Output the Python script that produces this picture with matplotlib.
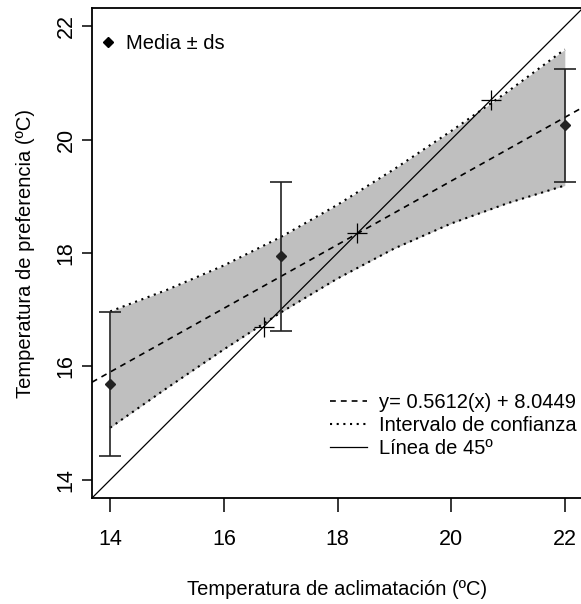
import numpy as np
import matplotlib.pyplot as plt
import matplotlib as mpl
from matplotlib.lines import Line2D

mpl.rcParams.update(mpl.rcParamsDefault)
plt.rcParams['font.family'] = ['Liberation Sans Narrow', 'Liberation Sans', 'DejaVu Sans']

# acclimation temperature vs preferred temperature (mean +/- sd)
t_acl = [14, 17, 22]
t_pref = [15.69, 17.94, 20.25]
t_sd = [1.27, 1.31, 0.99]

# fitted line y = slope*x + intercept
slope = 0.5612
intercept = 8.0449
fit_label = 'y= 0.5612(x) + 8.0449'

# confidence band of the fit
band_x = [14, 15, 16, 17, 18, 19, 20, 21, 22]
band_hi = [16.97, 17.35, 17.78, 18.28, 18.85, 19.48, 20.15, 20.85, 21.59]
band_lo = [14.92, 15.62, 16.30, 16.95, 17.55, 18.08, 18.52, 18.88, 19.19]

# points where the fit / band cross the 45 degree line
cross_x = [16.7, 18.35, 20.7]

xlim = (13.68, 22.32)
ylim = (13.68, 22.32)

fs = 14.5
dot = (0, (1, 2.2))
dash = (0, (3.5, 3))

fig = plt.figure(figsize=(5.81, 6.04), dpi=100)
ax = fig.add_axes([92/581, 1 - 498/604, 491/581, 490/604])

ax.fill_between(band_x, band_lo, band_hi, color='#bfbfbf', lw=0, zorder=1)
ax.plot(band_x, band_hi, color='k', lw=1.5, ls=dot, zorder=2)
ax.plot(band_x, band_lo, color='k', lw=1.5, ls=dot, zorder=2)

xx = np.array(xlim)
ax.plot(xx, slope*xx + intercept, color='k', lw=1.2, ls=dash, zorder=3)
ax.plot(xx, xx, color='k', lw=0.9, zorder=3)

ax.plot(cross_x, cross_x, ls='none', marker='+', ms=14, mew=0.9, color='k', zorder=4)

ax.errorbar(t_acl, t_pref, yerr=t_sd, fmt='D', ms=5.5, color='#222222',
            ecolor='#222222', elinewidth=1.2, capsize=8, capthick=1.2, zorder=5)

ax.set_xlim(xlim)
ax.set_ylim(ylim)
ax.set_xticks([14, 16, 18, 20, 22])
ax.set_yticks([14, 16, 18, 20, 22])
ax.tick_params(axis='x', length=10, width=1.1, pad=12, labelsize=15.5)
ax.tick_params(axis='y', length=7, width=1.1, pad=4, labelsize=15.5, labelrotation=90)
for lab in ax.get_yticklabels():
    lab.set_va('center')
for sp in ax.spines.values():
    sp.set_linewidth(1.3)

ax.set_xlabel('Temperatura de aclimatación (ºC)', fontsize=fs, labelpad=22)
ax.set_ylabel('Temperatura de preferencia (ºC)', fontsize=fs, labelpad=15)

# legends
h_mean = [Line2D([], [], ls='none', marker='D', ms=5.5, color='k')]
leg1 = ax.legend(h_mean, ['Media ± ds'], loc='upper left', frameon=False,
                 fontsize=fs, handlelength=1.0, handletextpad=0.4,
                 bbox_to_anchor=(-0.016, 0.976), borderaxespad=0.3)
ax.add_artist(leg1)

h_lines = [Line2D([], [], color='k', lw=1.2, ls=dash),
           Line2D([], [], color='k', lw=1.5, ls=dot),
           Line2D([], [], color='k', lw=0.9)]
ax.legend(h_lines, [fit_label, 'Intervalo de confianza', 'Línea de 45º'],
          loc='lower right', frameon=False, fontsize=fs, handlelength=1.85,
          handletextpad=0.6, labelspacing=0.2, bbox_to_anchor=(1.024, 0.045))

fig.savefig('out.png', dpi=100)
